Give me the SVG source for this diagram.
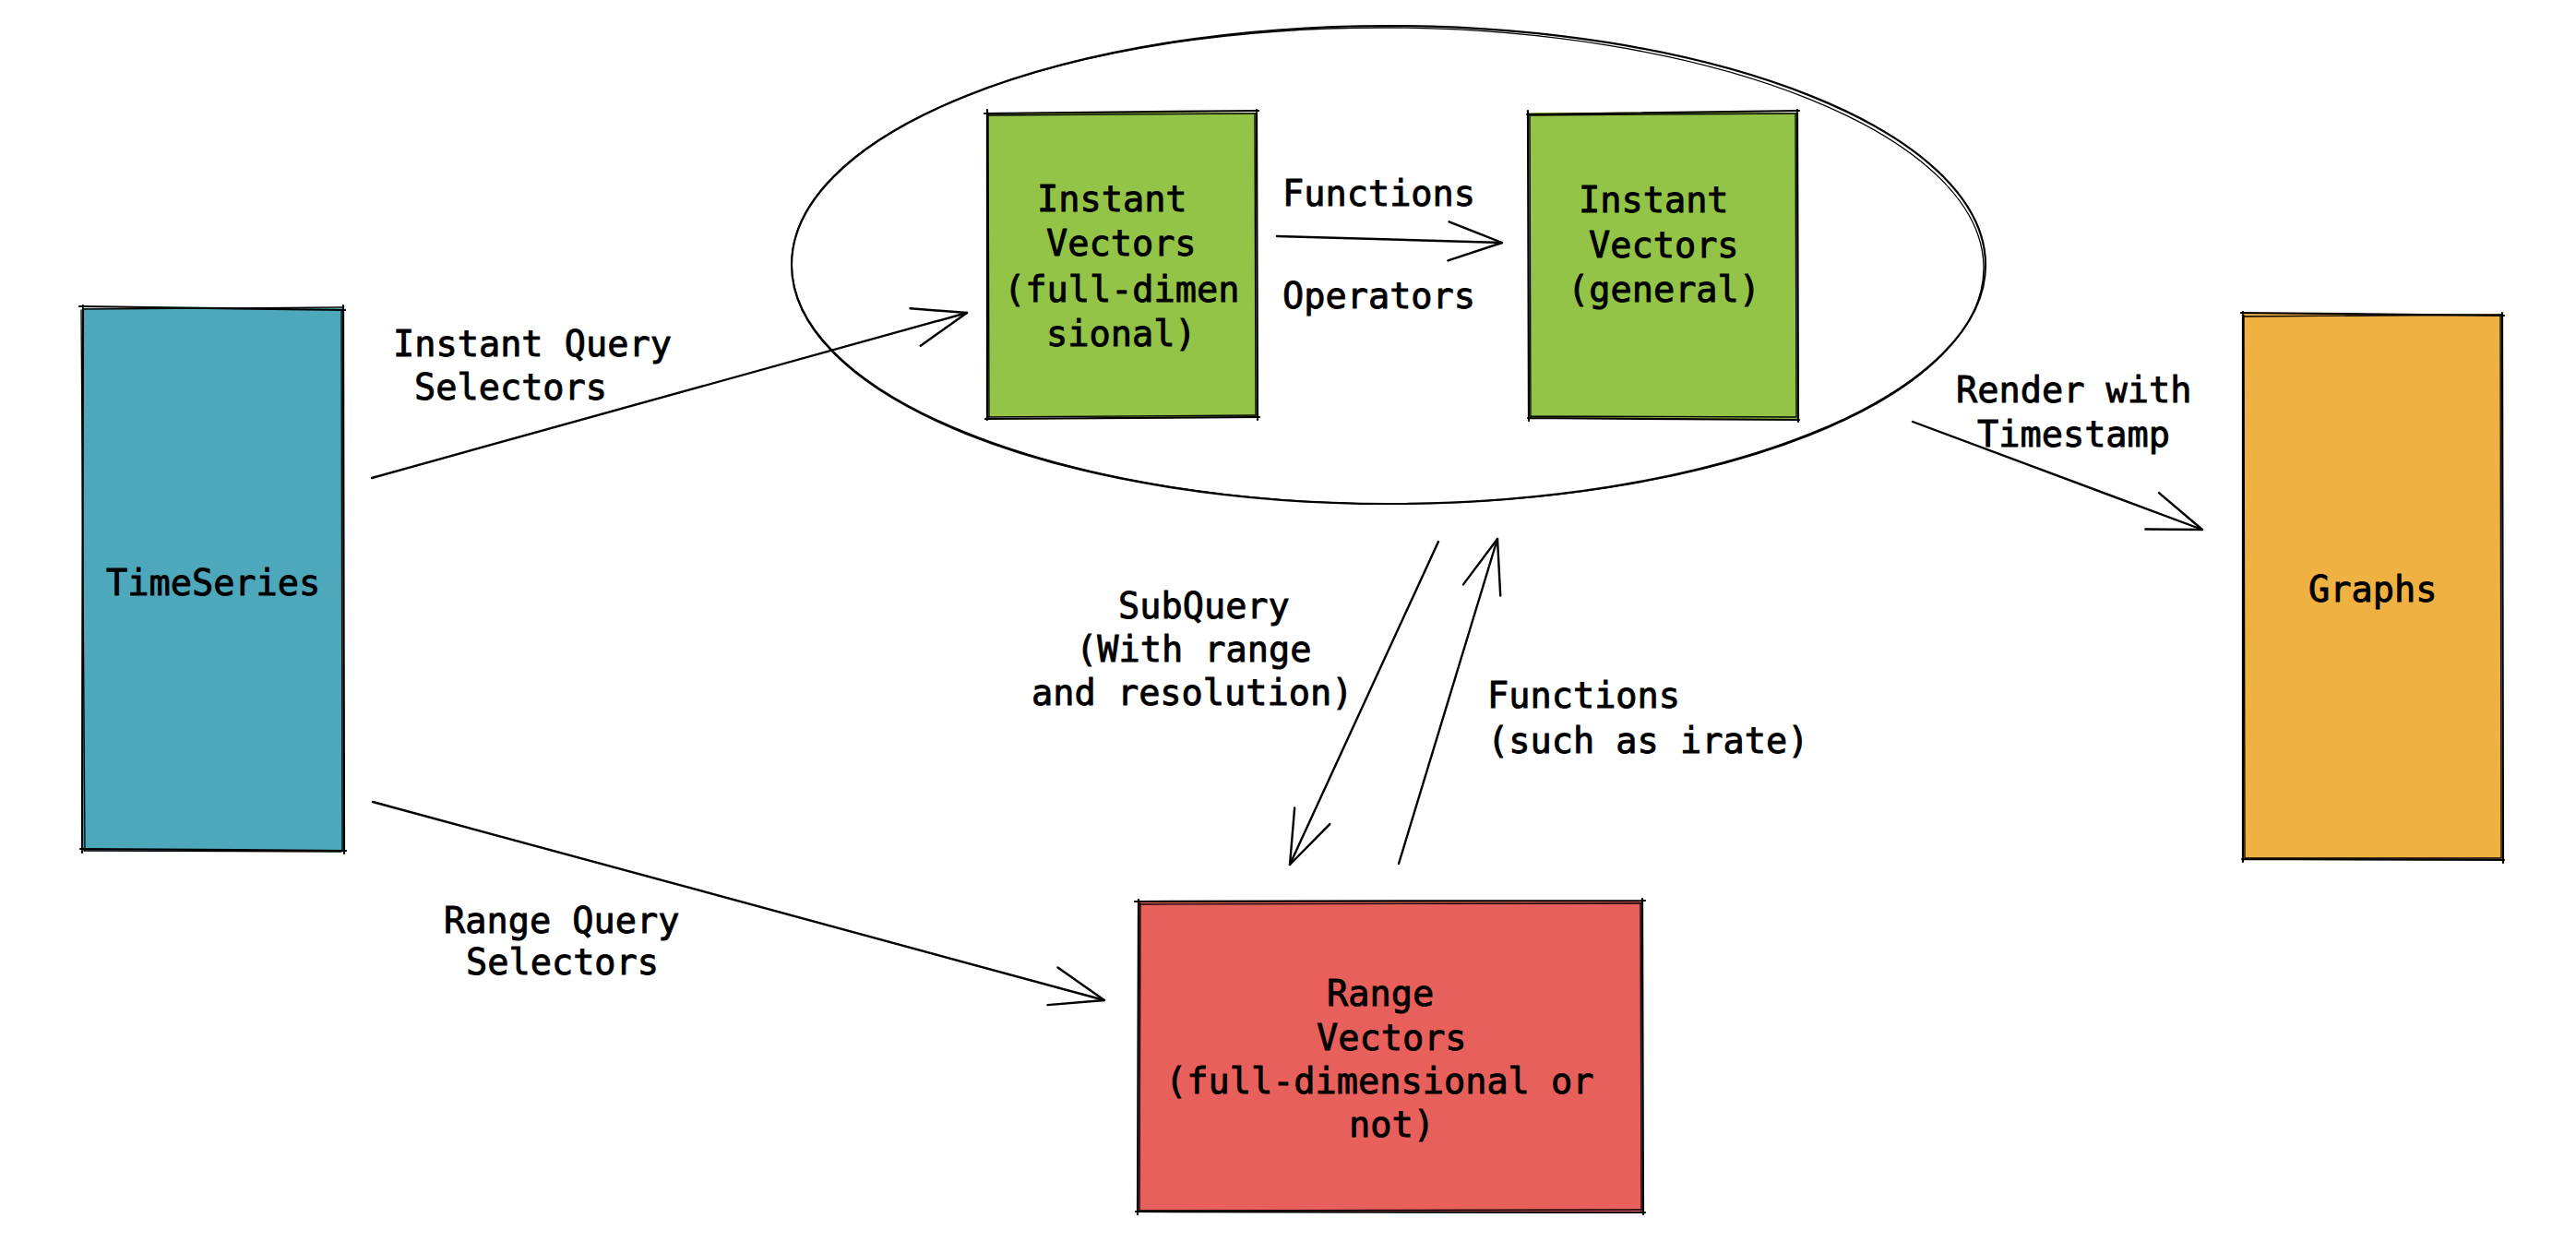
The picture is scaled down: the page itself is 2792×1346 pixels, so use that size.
<svg xmlns="http://www.w3.org/2000/svg" width="2792" height="1346" viewBox="0 0 2792 1346">
<style>
text{font-family:"DejaVu Sans Mono","Liberation Mono",monospace;font-size:38.6px;fill:#000;stroke:#000;stroke-width:0.9px}
.sk{fill:none;stroke:#000;stroke-width:2.2;stroke-linecap:round;stroke-linejoin:round}
.sk2{fill:none;stroke:#000;stroke-width:1.3;stroke-linecap:round}
.ln{fill:none;stroke:#000;stroke-width:2.4;stroke-linecap:round}
</style>
<defs>
<marker id="ah" markerUnits="userSpaceOnUse" viewBox="-62 -26 66 52" refX="0" refY="0" markerWidth="66" markerHeight="52" orient="auto" overflow="visible">
<path d="M -58 -21 L 0 0 L -58 21" fill="none" stroke="#000" stroke-width="2.4" stroke-linecap="round" stroke-linejoin="round"/>
</marker>
</defs>
<rect width="2792" height="1346" fill="#fff"/>

<g id="group-ellipse">
<ellipse cx="1505" cy="287" rx="647" ry="259" class="sk"/>
<ellipse cx="1504" cy="288" rx="646" ry="258" class="sk2" transform="rotate(0.25 1505 288)"/>
</g>

<g id="node-timeseries">
<rect x="89" y="334" width="283" height="588" fill="#4ea8bc"/>
<path class="sk" d="M86 332 L374 336 M372 331 L373 925 M375 922 L87 920 M89 924 L90 331"/>
<path class="sk2" d="M90 335 L371 333 M370 336 L371 921 M370 923 L91 922 M92 921 L88 336"/>
<text x="115" y="645">TimeSeries</text>
</g>

<g id="node-instant-full">
<rect x="1070" y="122" width="292" height="330" fill="#93c447"/>
<path class="sk" d="M1067 123 L1364 120 M1362 119 L1363 455 M1365 452 L1068 454 M1070 455 L1070 119"/>
<path class="sk2" d="M1071 125 L1361 123 M1360 124 L1361 451 M1360 450 L1071 452 M1072 451 L1071 124"/>
<text x="1124" y="229">Instant</text>
<text x="1134" y="277">Vectors</text>
<text x="1088" y="327">(full-dimen</text>
<text x="1134" y="375">sional)</text>
</g>

<g id="node-instant-general">
<rect x="1657" y="122" width="291" height="332" fill="#93c447"/>
<path class="sk" d="M1655 124 L1950 120 M1948 119 L1949 457 M1950 455 L1656 453 M1657 456 L1656 120"/>
<path class="sk2" d="M1658 125 L1947 123 M1946 124 L1947 452 M1946 452 L1659 451 M1659 452 L1658 124"/>
<text x="1711" y="230">Instant</text>
<text x="1722" y="279">Vectors</text>
<text x="1699" y="327">(general)</text>
</g>

<g id="node-range">
<rect x="1233" y="977" width="547" height="337" fill="#e8605b"/>
<path class="sk" d="M1230 977 L1783 976 M1780 974 L1781 1316 M1783 1314 L1231 1313 M1233 1316 L1234 975"/>
<path class="sk2" d="M1234 980 L1779 979 M1778 979 L1779 1312 M1778 1311 L1235 1312 M1235 1311 L1236 979"/>
<text x="1438" y="1090">Range</text>
<text x="1427" y="1138">Vectors</text>
<text x="1263" y="1185">(full-dimensional or</text>
<text x="1462" y="1232">not)</text>
</g>

<g id="node-graphs">
<rect x="2431" y="340" width="281" height="592" fill="#eeb142"/>
<path class="sk" d="M2429 339 L2714 342 M2712 339 L2713 935 M2714 932 L2430 931 M2431 934 L2431 338"/>
<path class="sk2" d="M2432 343 L2711 341 M2710 343 L2711 930 M2710 930 L2433 930 M2433 929 L2432 342"/>
<text x="2502" y="652">Graphs</text>
</g>

<g id="connectors">
<path class="ln" d="M403 518 L1048 339" marker-end="url(#ah)"/>
<path class="ln" d="M404 869 L1197 1084" marker-end="url(#ah)"/>
<path class="ln" d="M1384 256 L1628 263" marker-end="url(#ah)"/>
<path class="ln" d="M1559 587 L1398 937" marker-end="url(#ah)"/>
<path class="ln" d="M1516 936 L1623 584" marker-end="url(#ah)"/>
<path class="ln" d="M2073 457 L2387 574" marker-end="url(#ah)"/>
</g>

<g id="labels">
<text x="426" y="386">Instant Query</text>
<text x="449" y="433">Selectors</text>
<text x="481" y="1011">Range Query</text>
<text x="505" y="1056">Selectors</text>
<text x="1390" y="223">Functions</text>
<text x="1390" y="334">Operators</text>
<text x="1212" y="670">SubQuery</text>
<text x="1166" y="717">(With range</text>
<text x="1118" y="764">and resolution)</text>
<text x="1612" y="767">Functions</text>
<text x="1612" y="816">(such as irate)</text>
<text x="2120" y="436">Render with</text>
<text x="2143" y="484">Timestamp</text>
</g>
</svg>
